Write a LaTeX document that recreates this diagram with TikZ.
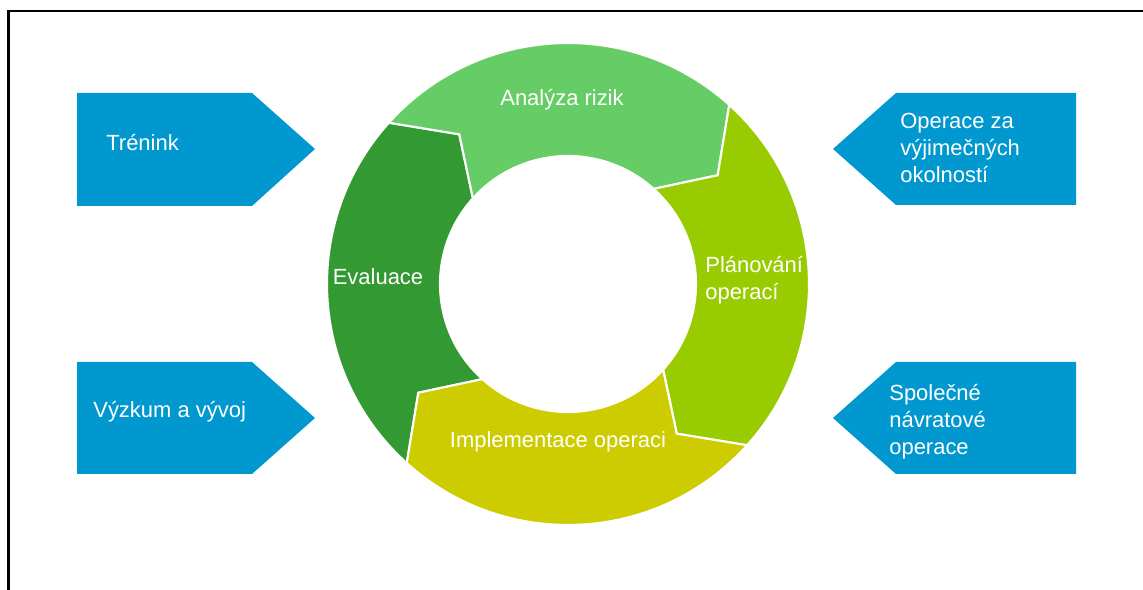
\documentclass[tikz,border=0pt]{standalone}
\usepackage{fontspec}
\setmainfont{Liberation Sans}
\usepackage{xcolor}
\usepackage{tikz}

\definecolor{tagblue}{RGB}{0,152,206}
\definecolor{evalgreen}{RGB}{51,153,51}
\definecolor{riskgreen}{RGB}{102,204,102}
\definecolor{plangreen}{RGB}{153,204,0}
\definecolor{implyellow}{RGB}{204,204,0}

\begin{document}
\begin{tikzpicture}[
x=0.02cm, y=0.02cm,
font=\fontsize{12.5}{15.4}\selectfont,
seg/.style={draw=white, line width=1.2pt, line join=miter},
tag/.style={fill=tagblue},
lbl/.style={text=white, inner sep=0pt, align=left}
]
\useasboundingbox (0,0) rectangle (1143,590);
\draw[line width=1.2pt] (8.5,0) -- (8.5,579) -- (1143,579);

% cycle ring, four chevron segments running clockwise
\coordinate (c) at (568,306);
\begin{scope}[shift={(c)}]
\fill[seg, fill=evalgreen] (228:241) arc[start angle=228, end angle=138, radius=241] -- (126:185) -- (138:128) arc[start angle=138, end angle=228, radius=128] -- (216:185) -- cycle;
\fill[seg, fill=riskgreen] (138:241) arc[start angle=138, end angle=48, radius=241] -- (36:185) -- (48:128) arc[start angle=48, end angle=138, radius=128] -- (126:185) -- cycle;
\fill[seg, fill=plangreen] (48:241) arc[start angle=48, end angle=-42, radius=241] -- (-54:185) -- (-42:128) arc[start angle=-42, end angle=48, radius=128] -- (36:185) -- cycle;
\fill[seg, fill=implyellow] (-42:241) arc[start angle=-42, end angle=-132, radius=241] -- (-144:185) -- (-132:128) arc[start angle=-132, end angle=-42, radius=128] -- (-54:185) -- cycle;
\end{scope}

\node[lbl] (risk) at (562,490) {Analýza rizik};
\node[lbl] (eval) at (378,313) {Evaluace};
\node[lbl, anchor=west] (plan) at (705,310) {Plánování\\operací};
\node[lbl] (impl) at (558,148) {Implementace operaci};

% blue tags pointing at the ring
\fill[tag] (77,384) -- (252,384) -- (315,441) -- (252,497) -- (77,497) -- cycle;
\fill[tag] (77,116) -- (252,116) -- (315,172) -- (252,228) -- (77,228) -- cycle;
\fill[tag] (1076,385) -- (896,385) -- (833,441) -- (896,497) -- (1076,497) -- cycle;
\fill[tag] (1076,116) -- (896,116) -- (833,172) -- (896,228) -- (1076,228) -- cycle;

\node[lbl, anchor=west] (trenink) at (106,447) {Trénink};
\node[lbl, anchor=west] (vyzkum) at (93,178) {Výzkum a vývoj};
\node[lbl, anchor=west] (vyjimecne) at (900,442) {Operace za\\výjimečných\\okolností};
\node[lbl, anchor=west] (navrat) at (889,168) {Společné\\návratové\\operace};
\end{tikzpicture}
\end{document}
